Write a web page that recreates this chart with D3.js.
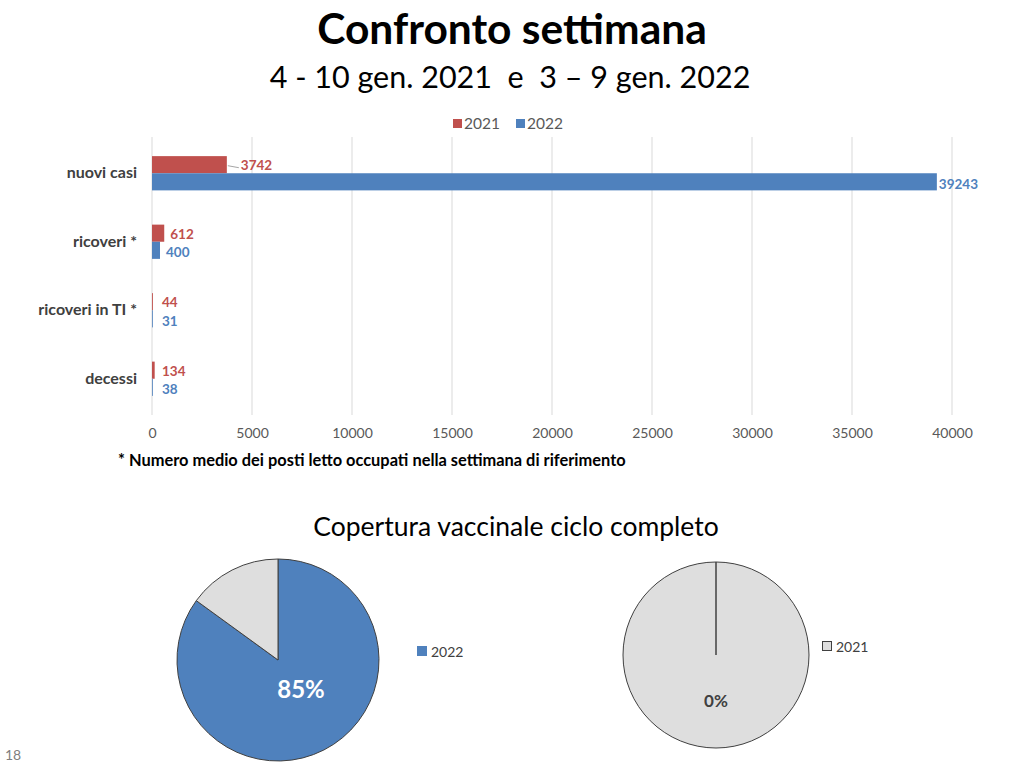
<!DOCTYPE html>
<html><head><meta charset="utf-8">
<script src="https://cdn.jsdelivr.net/npm/d3@7"></script>
<style>body{margin:0;background:#fff}svg{display:block}text{font-family:Lato,"Open Sans",sans-serif}</style>
</head><body>
<svg id="c" width="1024" height="764"></svg>
<script>
const categories = ["nuovi casi", "ricoveri *", "ricoveri in TI *", "decessi"];
const series = ["2021", "2022"];
const values2021 = [3742, 612, 44, 134];
const values2022 = [39243, 400, 31, 38];
const xTicks = [0, 5000, 10000, 15000, 20000, 25000, 30000, 35000, 40000];
const pie2022 = [{k:"2022", v:85}, {k:"altro", v:15}];
const pie2021 = [{k:"2021", v:0}, {k:"altro", v:100}];

const RED = "#c0504d", BLUE = "#4f81bd", GREY = "#dedede";
const svg = d3.select("#c");

svg.append("text").attr("x", 512).attr("y", 44).attr("text-anchor", "middle")
  .attr("font-size", 42.5).attr("font-weight", 700).attr("fill", "#000").text("Confronto settimana");
svg.append("text").attr("x", 510).attr("y", 88).attr("text-anchor", "middle").style("white-space", "pre")
  .attr("font-size", 30.5).attr("fill", "#000").text("4 - 10 gen. 2021  e  3 \u2013 9 gen. 2022");

// legend
const lg = svg.append("g");
[["2021", RED, 453], ["2022", BLUE, 516]].forEach(([t, c, x]) => {
  lg.append("rect").attr("x", x).attr("y", 119).attr("width", 9).attr("height", 9).attr("fill", c);
  lg.append("text").attr("x", x + 11).attr("y", 129).attr("font-size", 15.5).attr("fill", "#595959").text(t);
});

const x = d3.scaleLinear().domain([0, 40000]).range([152, 952]);
const y = d3.scaleBand().domain(categories).range([139, 413]);
const yInner = d3.scaleBand().domain(series).range([0, y.bandwidth()]).paddingInner(0).paddingOuter(1);

// grid
svg.append("g").selectAll("line").data(xTicks).join("line")
  .attr("x1", d => x(d)).attr("x2", d => x(d)).attr("y1", 137).attr("y2", 415)
  .attr("stroke", "#d9d9d9").attr("stroke-width", 1);

// axis
const ax = svg.append("g").attr("transform", "translate(0,415)")
  .call(d3.axisBottom(x).tickValues(xTicks).tickSize(0).tickPadding(13).tickFormat(d3.format("d")));
ax.select(".domain").remove();
ax.selectAll("text").attr("font-size", 14).attr("fill", "#595959").attr("font-family", "Lato,'Open Sans',sans-serif");

// category labels
const yl = svg.append("g").attr("transform", "translate(137,0)")
  .call(d3.axisLeft(y).tickSize(0).tickPadding(0));
yl.select(".domain").remove();
yl.selectAll("text").attr("font-size", 16).attr("font-weight", 700).attr("fill", "#404040")
  .attr("font-family", "Lato,'Open Sans',sans-serif");

const rows = categories.map((c, i) => ({c, v: [values2021[i], values2022[i]]}));
const bars = svg.append("g");
rows.forEach(r => {
  series.forEach((s, j) => {
    const v = r.v[j];
    const y0 = y(r.c) + yInner(s);
    const col = j === 0 ? RED : BLUE;
    bars.append("rect").attr("x", x(0)).attr("y", y0).attr("width", Math.max(x(v) - x(0), 0.8))
      .attr("height", yInner.bandwidth()).attr("fill", col);
    let lx = x(v) + 6;
    if (r.c === "nuovi casi" && j === 0) {
      bars.append("line").attr("x1", x(v) + 1).attr("x2", x(v) + 12)
        .attr("y1", y0 + yInner.bandwidth() / 2 + 1).attr("y2", y0 + yInner.bandwidth() / 2 + 3)
        .attr("stroke", "#a6a6a6");
      lx = x(v) + 14;
    }
    if (r.c === "nuovi casi" && j === 1) lx = x(v) + 2;
    bars.append("text").attr("x", Math.max(lx, 162)).attr("y", y0 + yInner.bandwidth() / 2 + (j === 0 ? 1 : 2))
      .attr("dy", "0.35em").attr("font-size", 13.5).attr("font-weight", 700).attr("fill", col).text(v);
  });
});

svg.append("text").attr("x", 118).attr("y", 466).attr("font-size", 16.4).attr("font-weight", 700)
  .attr("fill", "#000").text("* Numero medio dei posti letto occupati nella settimana di riferimento");

svg.append("text").attr("x", 516).attr("y", 536).attr("text-anchor", "middle")
  .attr("font-size", 26.5).attr("fill", "#000").text("Copertura vaccinale ciclo completo");

// pies
const pie = d3.pie().sort(null).value(d => d.v);
function drawPie(data, cx, cy, r, colors, label, labelColor, labelPos, labelSize) {
  const g = svg.append("g").attr("transform", `translate(${cx},${cy})`);
  const arc = d3.arc().innerRadius(0).outerRadius(r);
  g.selectAll("path").data(pie(data)).join("path").attr("d", arc)
    .attr("fill", (d, i) => colors[i]).attr("stroke", "#404040").attr("stroke-width", 1);
  g.append("text").attr("x", labelPos[0]).attr("y", labelPos[1]).attr("text-anchor", "middle")
    .attr("font-size", labelSize).attr("font-weight", 700).attr("fill", labelColor).text(label);
}
drawPie(pie2022, 278, 660, 101, [BLUE, GREY], pie2022[0].v + "%", "#fff", [23, 38], 24);
drawPie(pie2021, 716, 655, 93, [BLUE, GREY], pie2021[0].v + "%", "#404040", [0, 52], 17);
// 0% slice line
svg.append("line").attr("x1", 716).attr("x2", 716).attr("y1", 562).attr("y2", 655).attr("stroke", "#404040").attr("stroke-width", 1.5);

svg.append("rect").attr("x", 417).attr("y", 646).attr("width", 10).attr("height", 10).attr("fill", BLUE);
svg.append("text").attr("x", 431).attr("y", 657).attr("font-size", 14).attr("fill", "#404040").text(pie2022[0].k);
svg.append("rect").attr("x", 822.5).attr("y", 641.5).attr("width", 9).attr("height", 9).attr("fill", GREY).attr("stroke", "#404040");
svg.append("text").attr("x", 836).attr("y", 652).attr("font-size", 14).attr("fill", "#404040").text(pie2021[0].k);

svg.append("text").attr("x", 5).attr("y", 760).attr("font-size", 14).attr("fill", "#7f7f7f").text("18");
</script>
</body></html>
